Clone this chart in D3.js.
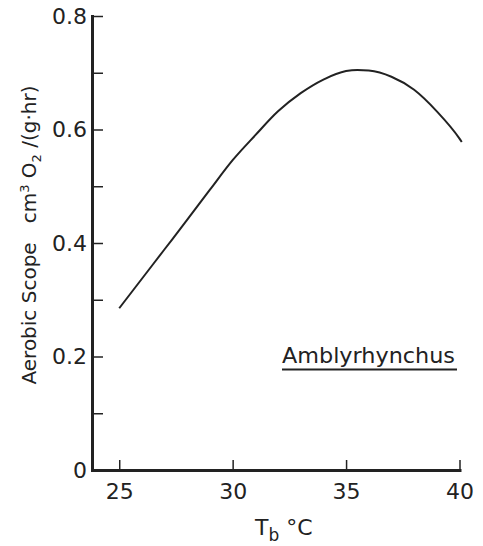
<!DOCTYPE html>
<html>
<head>
<meta charset="utf-8">
<script src="https://cdn.jsdelivr.net/npm/d3@7"></script>
<style>
    body { margin: 0; background: #fff; }
    svg text { font-family: "DejaVu Sans", sans-serif; fill: #222; }
</style>
</head>
<body>
<div id="chart"></div>
<script>
// Data (body temperature, aerobic scope)
const temps = [25, 26, 27, 28, 29, 30, 31, 32, 33, 34, 35, 35.5, 36, 37, 38, 39, 40, 40.1]
const scope = [0.285, 0.337, 0.389, 0.441, 0.494, 0.546, 0.590, 0.632, 0.664, 0.688, 0.703, 0.705, 0.704, 0.693, 0.670, 0.632, 0.584, 0.578]
// Axis ticks
const xTicks = [25, 30, 35, 40]
const yTicks = [0, 0.1, 0.2, 0.3, 0.4, 0.5, 0.6, 0.7, 0.8]
const yLabelled = [0, 0.2, 0.4, 0.6, 0.8]
const speciesName = 'Amblyrhynchus'

let width = 483, height = 546

let svg = d3.select('#chart')
    .append('svg')
    .attr('width', width)
    .attr('height', height)

let x = d3.scaleLinear().domain([23.8, 40]).range([92, 459.5])
let y = d3.scaleLinear().domain([0, 0.8]).range([470, 16])

// x axis, ticks pointing up into the plot
let xAxis = svg.append('g')
    .attr('transform', 'translate(0,' + y(0) + ')')
    .call(d3.axisBottom(x)
        .tickValues(xTicks)
        .tickSizeInner(-10)
        .tickSizeOuter(0)
        .tickPadding(13))
xAxis.select('.domain').attr('stroke', '#222').attr('stroke-width', 3).attr('stroke-linecap', 'square')
xAxis.selectAll('.tick line').attr('stroke', '#222').attr('stroke-width', 1.5)
xAxis.selectAll('.tick text').style('font-size', '22px').attr('fill', '#222')

// y axis, ticks pointing right
let yAxis = svg.append('g')
    .attr('transform', 'translate(' + x.range()[0] + ',0)')
    .call(d3.axisLeft(y)
        .tickValues(yTicks)
        .tickSizeInner(-11)
        .tickSizeOuter(0)
        .tickPadding(5)
        .tickFormat(d => {
            if (d === 0) return '0'
            return yLabelled.some(v => Math.abs(v - d) < 1e-9) ? d3.format('.1f')(d) : ''
        }))
yAxis.select('.domain').attr('stroke', '#222').attr('stroke-width', 3).attr('stroke-linecap', 'square')
yAxis.selectAll('.tick line').attr('stroke', '#222').attr('stroke-width', 1.5)
yAxis.selectAll('.tick').filter(d => d === 0).select('line').remove()
yAxis.selectAll('.tick text').style('font-size', '22px').attr('fill', '#222')

// the curve
let line = d3.line()
    .x((d, i) => x(temps[i]))
    .y(d => y(d))
    .curve(d3.curveMonotoneX)

svg.append('path')
    .datum(scope)
    .attr('d', line)
    .attr('fill', 'none')
    .attr('stroke', '#222')
    .attr('stroke-width', 2)

// x title  T_b °C
let xt = svg.append('text')
    .attr('x', 255)
    .attr('y', 535)
    .style('font-size', '22px')
xt.append('tspan').text('T')
xt.append('tspan').text('b').attr('dy', 6).style('font-size', '17px')
xt.append('tspan').text(' \u00B0C').attr('dy', -6)

// y title (rotated)
let yt = svg.append('text')
    .attr('transform', 'translate(36,235) rotate(-90)')
    .attr('text-anchor', 'middle')
    .style('font-size', '20px')
yt.append('tspan').text('Aerobic Scope\u00A0\u00A0 cm')
yt.append('tspan').text('3').attr('dy', -7).style('font-size', '13px')
yt.append('tspan').text(' O').attr('dy', 7)
yt.append('tspan').text('2').attr('dy', 5).style('font-size', '13px')
yt.append('tspan').text(' /(g\u00B7hr)').attr('dy', -5)

// species label with underline
svg.append('text')
    .attr('x', 282)
    .attr('y', 363)
    .attr('textLength', 173)
    .attr('lengthAdjust', 'spacingAndGlyphs')
    .style('font-size', '21px')
    .text(speciesName)

svg.append('line')
    .attr('x1', 282)
    .attr('x2', 457)
    .attr('y1', 369.5)
    .attr('y2', 369.5)
    .attr('stroke', '#222')
    .attr('stroke-width', 2)
</script>
</body>
</html>
